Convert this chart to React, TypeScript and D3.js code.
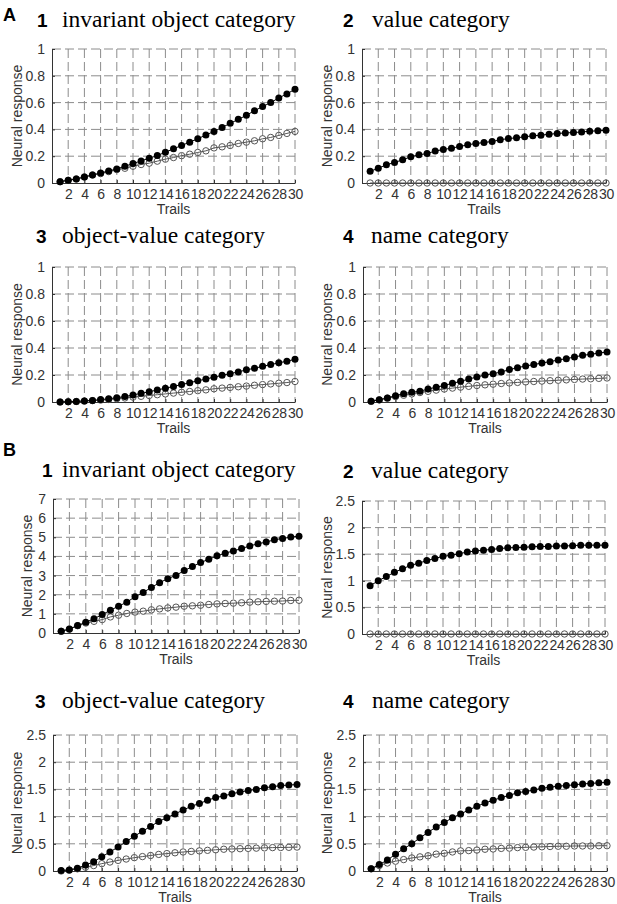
import * as d3 from 'd3';
import React, {useEffect, useRef} from 'react';

// trial numbers on the x axis
const trials = [1, 2, 3, 4, 5, 6, 7, 8, 9, 10, 11, 12, 13, 14, 15, 16, 17, 18, 19, 20, 21, 22, 23, 24, 25, 26, 27, 28, 29, 30];
const xTicks = [2, 4, 6, 8, 10, 12, 14, 16, 18, 20, 22, 24, 26, 28, 30];

// A: filled (black) and open (grey) series
const a1Filled = [0.01, 0.02, 0.03, 0.045, 0.06, 0.075, 0.09, 0.105, 0.125, 0.145, 0.165, 0.185, 0.205, 0.23, 0.255, 0.28, 0.305, 0.33, 0.358, 0.385, 0.415, 0.445, 0.475, 0.505, 0.54, 0.57, 0.6, 0.635, 0.665, 0.7];
const a1Open = [0.01, 0.02, 0.03, 0.045, 0.06, 0.07, 0.085, 0.1, 0.11, 0.125, 0.138, 0.148, 0.163, 0.178, 0.19, 0.204, 0.215, 0.228, 0.24, 0.262, 0.27, 0.28, 0.295, 0.305, 0.315, 0.33, 0.34, 0.355, 0.37, 0.385];
const a2Filled = [0.087, 0.11, 0.136, 0.153, 0.173, 0.196, 0.21, 0.22, 0.238, 0.25, 0.26, 0.272, 0.285, 0.295, 0.302, 0.31, 0.322, 0.332, 0.337, 0.345, 0.352, 0.357, 0.364, 0.369, 0.374, 0.376, 0.381, 0.386, 0.39, 0.393];
const a2Open = [0, 0, 0, 0, 0, 0, 0, 0, 0, 0, 0, 0, 0, 0, 0, 0, 0, 0, 0, 0, 0, 0, 0, 0, 0, 0, 0, 0, 0, 0];
const a3Filled = [0, 0.002, 0.004, 0.008, 0.012, 0.018, 0.024, 0.032, 0.04, 0.052, 0.064, 0.076, 0.089, 0.102, 0.115, 0.129, 0.143, 0.157, 0.17, 0.184, 0.198, 0.21, 0.223, 0.238, 0.25, 0.264, 0.277, 0.29, 0.302, 0.316];
const a3Open = [0, 0.002, 0.004, 0.007, 0.01, 0.014, 0.019, 0.024, 0.03, 0.036, 0.042, 0.048, 0.054, 0.06, 0.066, 0.072, 0.078, 0.084, 0.09, 0.098, 0.103, 0.108, 0.113, 0.118, 0.124, 0.129, 0.134, 0.139, 0.144, 0.152];
const a4Filled = [0.005, 0.017, 0.03, 0.047, 0.062, 0.072, 0.08, 0.096, 0.109, 0.123, 0.138, 0.153, 0.17, 0.185, 0.2, 0.21, 0.222, 0.24, 0.254, 0.267, 0.277, 0.289, 0.299, 0.311, 0.321, 0.333, 0.346, 0.353, 0.363, 0.37];
const a4Open = [0.005, 0.015, 0.028, 0.04, 0.05, 0.06, 0.07, 0.079, 0.088, 0.096, 0.103, 0.11, 0.116, 0.122, 0.127, 0.132, 0.137, 0.141, 0.145, 0.149, 0.152, 0.155, 0.158, 0.161, 0.164, 0.167, 0.17, 0.172, 0.175, 0.178];

// B
const b1Filled = [0.09, 0.21, 0.39, 0.56, 0.75, 0.96, 1.19, 1.4, 1.61, 1.89, 2.12, 2.38, 2.63, 2.84, 3.01, 3.26, 3.47, 3.68, 3.85, 4.03, 4.17, 4.29, 4.41, 4.55, 4.66, 4.75, 4.87, 4.94, 5.01, 5.06];
const b1Open = [0.09, 0.2, 0.38, 0.52, 0.61, 0.7, 0.84, 0.93, 1.02, 1.09, 1.14, 1.21, 1.26, 1.31, 1.35, 1.4, 1.42, 1.45, 1.49, 1.52, 1.54, 1.56, 1.58, 1.61, 1.63, 1.65, 1.66, 1.67, 1.7, 1.71];
const b2Filled = [0.906, 1.0, 1.08, 1.16, 1.225, 1.29, 1.33, 1.38, 1.42, 1.46, 1.48, 1.51, 1.54, 1.56, 1.575, 1.59, 1.605, 1.62, 1.625, 1.63, 1.64, 1.645, 1.645, 1.655, 1.655, 1.66, 1.67, 1.67, 1.67, 1.67];
const b2Open = [0, 0, 0, 0, 0, 0, 0, 0, 0, 0, 0, 0, 0, 0, 0, 0, 0, 0, 0, 0, 0, 0, 0, 0, 0, 0, 0, 0, 0, 0];
const b3Filled = [0.01, 0.02, 0.05, 0.11, 0.17, 0.26, 0.35, 0.44, 0.54, 0.64, 0.73, 0.82, 0.91, 0.98, 1.05, 1.12, 1.19, 1.24, 1.3, 1.35, 1.38, 1.42, 1.45, 1.48, 1.5, 1.53, 1.55, 1.57, 1.58, 1.59];
const b3Open = [0, 0.015, 0.04, 0.07, 0.1, 0.135, 0.165, 0.195, 0.22, 0.245, 0.265, 0.285, 0.305, 0.32, 0.335, 0.35, 0.36, 0.37, 0.38, 0.39, 0.4, 0.405, 0.41, 0.415, 0.42, 0.425, 0.43, 0.432, 0.435, 0.44];
const b4Filled = [0.04, 0.12, 0.2, 0.31, 0.41, 0.5, 0.61, 0.71, 0.81, 0.89, 0.98, 1.05, 1.12, 1.19, 1.25, 1.3, 1.35, 1.39, 1.44, 1.46, 1.49, 1.52, 1.54, 1.56, 1.57, 1.585, 1.6, 1.61, 1.62, 1.63];
const b4Open = [0.04, 0.1, 0.147, 0.18, 0.21, 0.24, 0.26, 0.28, 0.31, 0.325, 0.35, 0.37, 0.375, 0.385, 0.4, 0.405, 0.415, 0.42, 0.43, 0.435, 0.44, 0.445, 0.45, 0.455, 0.455, 0.46, 0.46, 0.46, 0.465, 0.465];

const yTicksA = [0, 0.2, 0.4, 0.6, 0.8, 1];
const yTicksB1 = [0, 1, 2, 3, 4, 5, 6, 7];
const yTicksB = [0, 0.5, 1, 1.5, 2, 2.5];

const titles = ['invariant object category', 'value category', 'object-value category', 'name category'];

// layout of the 8 panels
const panels = [
    {num: '1', title: titles[0], filled: a1Filled, open: a1Open, ticks: yTicksA, l: 52, r: 295, t: 49, b: 183, ty: 27, nx: 37, tx: 62, lx: 18},
    {num: '2', title: titles[1], filled: a2Filled, open: a2Open, ticks: yTicksA, l: 362, r: 606, t: 49, b: 183, ty: 27, nx: 343, tx: 372, lx: 328},
    {num: '3', title: titles[2], filled: a3Filled, open: a3Open, ticks: yTicksA, l: 52, r: 295, t: 267, b: 402, ty: 243, nx: 36, tx: 62, lx: 18},
    {num: '4', title: titles[3], filled: a4Filled, open: a4Open, ticks: yTicksA, l: 363, r: 607, t: 267, b: 402, ty: 243, nx: 343, tx: 371, lx: 328},
    {num: '1', title: titles[0], filled: b1Filled, open: b1Open, ticks: yTicksB1, l: 53, r: 299, t: 499, b: 633, ty: 477, nx: 42, tx: 62, lx: 28},
    {num: '2', title: titles[1], filled: b2Filled, open: b2Open, ticks: yTicksB, l: 362, r: 605, t: 501, b: 634, ty: 478, nx: 343, tx: 371, lx: 328},
    {num: '3', title: titles[2], filled: b3Filled, open: b3Open, ticks: yTicksB, l: 53, r: 297, t: 735, b: 871, ty: 708, nx: 35, tx: 62, lx: 18},
    {num: '4', title: titles[3], filled: b4Filled, open: b4Open, ticks: yTicksB, l: 363, r: 607, t: 735, b: 871, ty: 708, nx: 343, tx: 372, lx: 328},
];

const sans = 'Arial, "Liberation Sans", Helvetica, sans-serif';
const serif = '"Times New Roman", "Liberation Serif", Times, serif';

export default function App() {
    const ref = useRef<SVGSVGElement>(null);

    useEffect(() => {
        const svg = d3.select(ref.current);
        svg.selectAll('*').remove();

        // panel letters
        svg.append('text').attr('x', 3).attr('y', 21).text('A')
            .style('font-family', sans).style('font-weight', 'bold').style('font-size', '18px');
        svg.append('text').attr('x', 3).attr('y', 456).text('B')
            .style('font-family', sans).style('font-weight', 'bold').style('font-size', '18px');

        panels.forEach((p) => {
            const g = svg.append('g');
            const yMax = p.ticks[p.ticks.length - 1];
            const x = d3.scaleLinear().domain([0, 30]).range([p.l, p.r]);
            const y = d3.scaleLinear().domain([0, yMax]).range([p.b, p.t]);

            // title
            g.append('text').attr('x', p.nx).attr('y', p.ty).text(p.num)
                .style('font-family', sans).style('font-weight', 'bold').style('font-size', '19px');
            g.append('text').attr('x', p.tx).attr('y', p.ty).text(p.title)
                .style('font-family', serif).style('font-size', '23.5px');

            // dashed grid
            g.selectAll('.vgrid').data(xTicks).enter().append('line')
                .attr('x1', (d) => x(d)).attr('x2', (d) => x(d))
                .attr('y1', p.t).attr('y2', p.b)
                .attr('stroke', '#8c8c8c').attr('stroke-dasharray', '9,4');
            g.selectAll('.hgrid').data(p.ticks.slice(1)).enter().append('line')
                .attr('x1', p.l).attr('x2', p.r)
                .attr('y1', (d) => y(d)).attr('y2', (d) => y(d))
                .attr('stroke', '#8c8c8c').attr('stroke-dasharray', '9,4');

            // axes
            const yAxis = d3.axisLeft(y).tickValues(p.ticks).tickFormat((d) => String(d))
                .tickSizeInner(-3).tickSizeOuter(0).tickPadding(7);
            const xAxis = d3.axisBottom(x).tickValues(xTicks).tickFormat((d) => String(d))
                .tickSizeInner(-3).tickSizeOuter(0).tickPadding(6);
            const ya = g.append('g').attr('transform', `translate(${p.l},0)`).call(yAxis);
            const xa = g.append('g').attr('transform', `translate(0,${p.b})`).call(xAxis);
            [ya, xa].forEach((a) => {
                a.select('.domain').attr('stroke', '#333');
                a.selectAll('.tick line').attr('stroke', '#333');
                a.selectAll('text').attr('fill', '#333')
                    .style('font-family', sans).style('font-size', '14px');
            });
            xa.selectAll('text').attr('letter-spacing', '-0.3px');

            // axis labels
            g.append('text')
                .attr('transform', `translate(${p.lx + 4},${(p.t + p.b) / 2}) rotate(-90)`)
                .attr('text-anchor', 'middle').attr('fill', '#333')
                .style('font-family', sans).style('font-size', '14px')
                .text('Neural response');
            g.append('text')
                .attr('x', (p.l + p.r) / 2).attr('y', p.b + 31)
                .attr('text-anchor', 'middle').attr('fill', '#333')
                .style('font-family', sans).style('font-size', '14px')
                .text('Trails');

            const line = d3.line<number>().x((d, i) => x(trials[i])).y((d) => y(d));

            // open series (grey)
            g.append('path').datum(p.open).attr('d', line)
                .attr('fill', 'none').attr('stroke', '#555').attr('stroke-width', 1);
            g.selectAll('.open').data(p.open).enter().append('circle')
                .attr('cx', (d, i) => x(trials[i])).attr('cy', (d) => y(d)).attr('r', 3.2)
                .attr('fill', 'none').attr('stroke', '#555').attr('stroke-width', 1);

            // filled series (black)
            g.append('path').datum(p.filled).attr('d', line)
                .attr('fill', 'none').attr('stroke', '#000').attr('stroke-width', 1);
            g.selectAll('.filled').data(p.filled).enter().append('circle')
                .attr('cx', (d, i) => x(trials[i])).attr('cy', (d) => y(d)).attr('r', 3.5)
                .attr('fill', '#000');
        });
    }, []);

    return (
        <svg ref={ref} width={617} height={904}
            style={{position: 'absolute', left: 0, top: 0, background: '#fff'}} />
    );
}
